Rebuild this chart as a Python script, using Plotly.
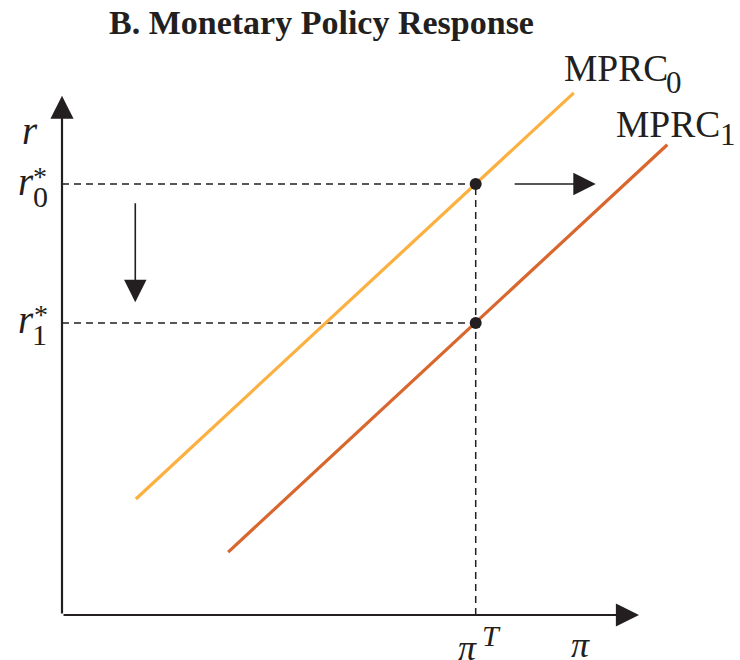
import plotly.graph_objects as go

# ---- data (model units) ----
PI_T = 7.17          # inflation target
R0 = 7.47            # r*_0
R1 = 5.06            # r*_1
mprc0_x = [1.28, 8.87]
mprc0_y = [2.01, 9.05]
mprc1_x = [2.88, 10.49]
mprc1_y = [1.09, 8.15]
x_axis_end = 10.0
y_axis_end = 9.0
shift_arrow_x = [7.82, 9.25]   # rightward shift arrow
down_arrow_y = [7.16, 5.42]    # downward arrow
down_arrow_x = 1.27

# ---- layout geometry: data units <-> pixels ----
W, H = 740, 660
S = 57.7
X0, Y0 = 62, 615
def px(x):
    return (x - X0) / S
def py(y):
    return (Y0 - y) / S

SERIF = "Liberation Serif"
BLACK = "#231f20"
C0 = "#FBB03F"
C1 = "#D9662C"

fig = go.Figure()

# dashed guide lines
dash = dict(color=BLACK, width=1.5, dash="7px,5px")
fig.add_trace(go.Scatter(x=[0, PI_T], y=[R0, R0], mode="lines", line=dash, hoverinfo="skip"))
fig.add_trace(go.Scatter(x=[0, PI_T], y=[R1, R1], mode="lines", line=dash, hoverinfo="skip"))
fig.add_trace(go.Scatter(x=[PI_T, PI_T], y=[0, R0], mode="lines", line=dash, hoverinfo="skip"))

# MPRC curves
fig.add_trace(go.Scatter(x=mprc0_x, y=mprc0_y, mode="lines",
                         line=dict(color=C0, width=3.2), hoverinfo="skip"))
fig.add_trace(go.Scatter(x=mprc1_x, y=mprc1_y, mode="lines",
                         line=dict(color=C1, width=3.2), hoverinfo="skip"))

# equilibrium points
fig.add_trace(go.Scatter(x=[PI_T, PI_T], y=[R0, R1], mode="markers",
                         marker=dict(color=BLACK, size=12), hoverinfo="skip"))

# axes with arrows
arrow_kw = dict(xref="x", yref="y", axref="x", ayref="y", text="", showarrow=True,
                arrowcolor=BLACK, arrowhead=2)
fig.add_annotation(x=x_axis_end, y=0, ax=0, ay=0, arrowwidth=2.2, arrowsize=2.1, **arrow_kw)
fig.add_annotation(x=0, y=y_axis_end, ax=0, ay=0, arrowwidth=2.2, arrowsize=2.1, **arrow_kw)
# shift arrows
fig.add_annotation(x=shift_arrow_x[1], y=R0, ax=shift_arrow_x[0], ay=R0,
                   arrowwidth=1.6, arrowsize=2.8, **arrow_kw)
fig.add_annotation(x=down_arrow_x, y=down_arrow_y[1], ax=down_arrow_x, ay=down_arrow_y[0],
                   arrowwidth=1.6, arrowsize=2.8, **arrow_kw)

def label(text, x, y, size, xanchor="center", yanchor="middle"):
    fig.add_annotation(x=px(x), y=py(y), xref="x", yref="y", text=text, showarrow=False,
                       xanchor=xanchor, yanchor=yanchor,
                       font=dict(family=SERIF, size=size, color=BLACK))

# title
label("<b>B. Monetary Policy Response</b>", 321, 22, 34)

# axis labels
label("<i>r</i>", 30, 130, 39)
label("<i>r</i>", 26, 181, 39)
label("*", 40, 176, 28)
label("0", 40, 196, 30)
label("<i>r</i>", 26, 319, 39)
label("*", 41, 314, 28)
label("1", 39, 334, 30)
label("<i>π</i>", 467, 648, 36)
label("<i>T</i>", 491, 635, 30)
label("<i>π</i>", 580, 645, 36)

# curve labels
label("MPRC", 562, 68, 37.5, xanchor="left")
label("0", 664, 82, 31, xanchor="left")
label("MPRC", 614, 124, 37.5, xanchor="left")
label("1", 718, 134, 31, xanchor="left")

fig.update_layout(
    width=W, height=H,
    margin=dict(l=0, r=0, t=0, b=0, pad=0, autoexpand=False),
    paper_bgcolor="white", plot_bgcolor="white",
    showlegend=False,
    xaxis=dict(range=[px(0), px(W)], visible=False, fixedrange=True),
    yaxis=dict(range=[py(H), py(0)], visible=False, fixedrange=True),
)

fig.write_html("out.html", config={"displayModeBar": False},
               post_script="document.body.style.margin='0';document.body.style.overflow='hidden';")
